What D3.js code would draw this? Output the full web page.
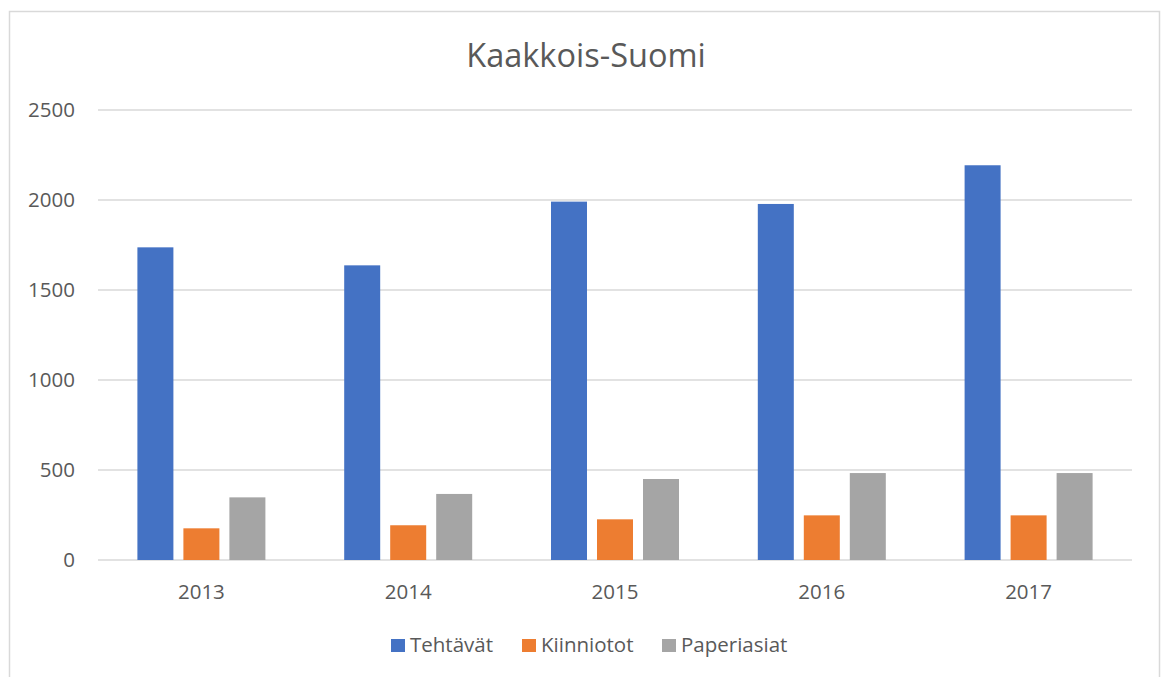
<!DOCTYPE html>
<html>
<head>
<meta charset="utf-8">
<script src="https://cdn.jsdelivr.net/npm/d3@7"></script>
<style>
  body { margin: 0; background: #fff; }
  text { font-family: "Open Sans", sans-serif; fill: #595959; }
</style>
</head>
<body>
<div class="CHART"></div>
<script>
// data
var years = ["2013", "2014", "2015", "2016", "2017"];
var series = ["Tehtävät", "Kiinniotot", "Paperiasiat"];
var tehtavat = [1737, 1637, 1991, 1978, 2193];
var kiinniotot = [176, 193, 226, 248, 248];
var paperiasiat = [348, 367, 450, 483, 483];
var yTicks = [0, 500, 1000, 1500, 2000, 2500];
var colors = ["#4472c4", "#ed7d31", "#a5a5a5"];

var W = 1161, H = 677;
var margin = {top: 110, right: 29, bottom: 117, left: 98};

var svg = d3.select(".CHART").append("svg")
    .attr("width", W)
    .attr("height", H);

// outer frame of the chart
svg.append("rect")
    .attr("x", 9.5).attr("y", 11.5)
    .attr("width", 1150).attr("height", 700)
    .attr("fill", "none").attr("stroke", "#d9d9d9").attr("stroke-width", 1.5);

svg.append("text")
    .attr("x", 586).attr("y", 67)
    .attr("text-anchor", "middle")
    .style("font-size", "32.5px")
    .text("Kaakkois-Suomi");

var scaleX = d3.scaleBand()
    .domain(years)
    .range([margin.left, W - margin.right]);

var scaleY = d3.scaleLinear()
    .domain([0, 2500])
    .range([H - margin.bottom, margin.top]);

var scaleS = d3.scaleBand()
    .domain(series)
    .range([0, 128])
    .paddingInner(10 / 46);

// gridlines
svg.append("g").selectAll("line")
    .data(yTicks)
    .enter().append("line")
    .attr("x1", margin.left).attr("x2", W - margin.right)
    .attr("y1", function(d) { return scaleY(d); })
    .attr("y2", function(d) { return scaleY(d); })
    .attr("stroke", "#d9d9d9")
    .attr("stroke-width", 1.5);

// y tick labels
svg.append("g").selectAll("text")
    .data(yTicks)
    .enter().append("text")
    .attr("x", 75)
    .attr("y", function(d) { return scaleY(d) + 7; })
    .attr("text-anchor", "end")
    .style("font-size", "20.5px")
    .text(function(d) { return d; });

// bars
var rows = years.map(function(y, i) {
  return {year: y, vals: [tehtavat[i], kiinniotot[i], paperiasiat[i]]};
});

var groups = svg.append("g").selectAll("g")
    .data(rows)
    .enter().append("g")
    .attr("transform", function(d) {
      return "translate(" + (scaleX(d.year) + (scaleX.bandwidth() - 128) / 2) + ",0)";
    });

groups.selectAll("rect")
    .data(function(d) { return d.vals.map(function(v, j) { return {s: series[j], v: v, j: j}; }); })
    .enter().append("rect")
    .attr("x", function(d) { return scaleS(d.s); })
    .attr("y", function(d) { return scaleY(d.v); })
    .attr("width", scaleS.bandwidth())
    .attr("height", function(d) { return scaleY(0) - scaleY(d.v); })
    .attr("fill", function(d) { return colors[d.j]; });

// x labels
svg.append("g").selectAll("text")
    .data(years)
    .enter().append("text")
    .attr("x", function(d) { return scaleX(d) + scaleX.bandwidth() / 2; })
    .attr("y", 599)
    .attr("text-anchor", "middle")
    .style("font-size", "20.5px")
    .text(function(d) { return d; });

// legend
var legX = [391, 522, 662];
var leg = svg.append("g").selectAll("g")
    .data(series)
    .enter().append("g")
    .attr("transform", function(d, i) { return "translate(" + legX[i] + ",639)"; });

leg.append("rect")
    .attr("width", 14).attr("height", 13)
    .attr("fill", function(d, i) { return colors[i]; });

leg.append("text")
    .attr("x", 19).attr("y", 13)
    .style("font-size", "20.5px")
    .text(function(d) { return d; });
</script>
</body>
</html>
